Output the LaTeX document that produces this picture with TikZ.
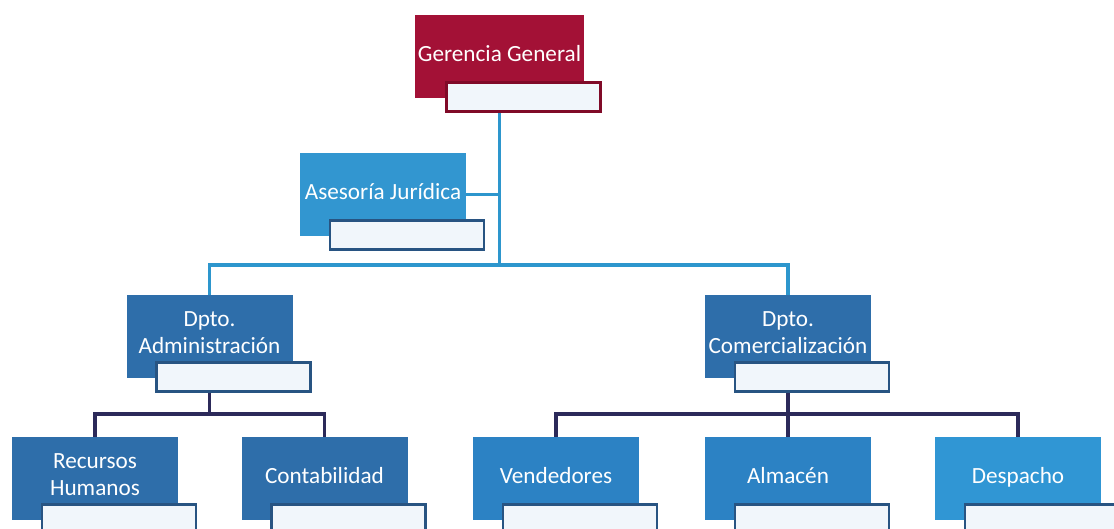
\documentclass[tikz,border=0pt]{standalone}
\usepackage{fontspec}
\setmainfont{Carlito}
\usetikzlibrary{positioning}

\definecolor{gerred}{RGB}{163,17,54}
\definecolor{gerdark}{RGB}{128,10,40}
\definecolor{aseblue}{RGB}{50,150,208}
\definecolor{dptblue}{RGB}{46,110,170}
\definecolor{midblue}{RGB}{44,130,196}
\definecolor{liteblue}{RGB}{48,150,212}
\definecolor{subdark}{RGB}{40,84,130}
\definecolor{subfill}{RGB}{241,246,251}
\definecolor{upline}{RGB}{45,150,205}
\definecolor{lowline}{RGB}{44,42,90}

\tikzset{
    unitbox/.style={minimum width=4.15cm, minimum height=2.075cm, align=center,
        text=white, font=\fontsize{16.5}{19}\selectfont, inner sep=2pt,
        execute at begin node=\strut},
    subbox/.style={draw=subdark, line width=1.8pt, fill=subfill,
        minimum width=3.85cm, minimum height=0.72cm},
    upcon/.style={draw=upline, line width=2.2pt},
    lowcon/.style={draw=lowline, line width=2.2pt}
}

\begin{document}
\begin{tikzpicture}
    \clip (0,0) rectangle (27.85,-13.225);
    \fill[white] (0,0) rectangle (27.85,-13.225);

    % bus levels
    \coordinate (bus1) at (0,-6.625);
    \coordinate (bus2) at (0,-10.35);

    % Gerencia and Asesoria
    \node[unitbox, fill=gerred] (ger) at (12.4875,-1.4125) {Gerencia General};
    \node[unitbox, fill=aseblue] (ase) at (9.575,-4.8625) {Asesoría Jurídica};

    % Departamentos
    \node[unitbox, fill=dptblue] (adm) at (5.2375,-8.4125) {Dpto.\\Administración};
    \node[unitbox, fill=dptblue] (com) at (19.7,-8.4125) {Dpto.\\Comercialización};

    % Secciones
    \node[unitbox, fill=dptblue] (rec) at (2.375,-11.9625) {Recursos\\Humanos};
    \node[unitbox, fill=dptblue] (con) at (8.1125,-11.9625) {Contabilidad};
    \node[unitbox, fill=midblue] (ven) at (13.9,-11.9625) {Vendedores};
    \node[unitbox, fill=midblue] (alm) at (19.7,-11.9625) {Almacén};
    \node[unitbox, fill=liteblue] (des) at (25.45,-11.9625) {Despacho};

    % Connectors
    \draw[upcon] (ger.south) -- (ger.south |- bus1);
    \draw[upcon] (ase.east) -- (ase.east -| ger.south);
    \draw[upcon] (adm.north) |- (com.north |- bus1) -- (com.north);
    \draw[lowcon] (adm.south) -- (adm.south |- bus2);
    \draw[lowcon] (com.south) -- (com.south |- bus2);
    \draw[lowcon] (rec.north) |- (con.north |- bus2) -- (con.north);
    \draw[lowcon] (ven.north) |- (des.north |- bus2) -- (des.north);
    \draw[lowcon] (alm.north) -- (alm.north |- bus2);

    % Name plates
    \node[subbox, draw=gerdark] (gersub) at ([shift={(0.6cm,-1.01cm)}]ger.center) {};
    \node[subbox] (asesub) at ([shift={(0.6cm,-1.01cm)}]ase.center) {};
    \node[subbox] (admsub) at ([shift={(0.6cm,-1.01cm)}]adm.center) {};
    \node[subbox] (comsub) at ([shift={(0.6cm,-1.01cm)}]com.center) {};
    \node[subbox] (recsub) at ([shift={(0.6cm,-1.01cm)}]rec.center) {};
    \node[subbox] (consub) at ([shift={(0.6cm,-1.01cm)}]con.center) {};
    \node[subbox] (vensub) at ([shift={(0.6cm,-1.01cm)}]ven.center) {};
    \node[subbox] (almsub) at ([shift={(0.6cm,-1.01cm)}]alm.center) {};
    \node[subbox] (dessub) at ([shift={(0.6cm,-1.01cm)}]des.center) {};
\end{tikzpicture}
\end{document}
